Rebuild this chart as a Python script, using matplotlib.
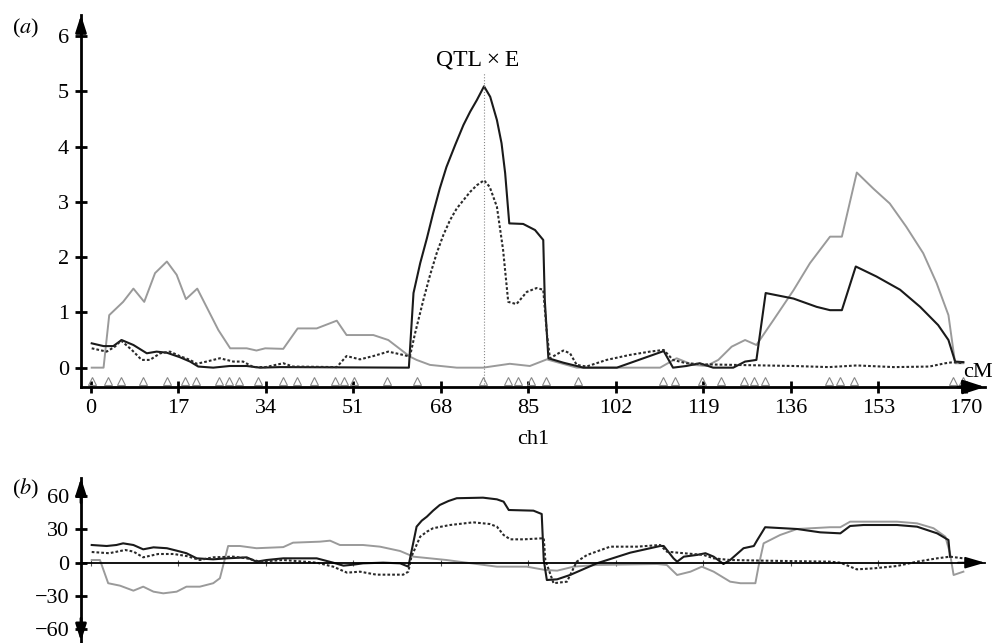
import matplotlib
matplotlib.use("Agg")
import matplotlib.pyplot as plt
import numpy as np

plt.rcParams.update({
    "font.family":      "Liberation Serif",
    "font.size":        16,
    "mathtext.fontset": "stix",
    "axes.unicode_minus": True,
})

# -- data: (a) LOD profile along ch1 -----------------------------------------
gray_a_cm = [0.2, 2.5, 3.6, 6.3, 8.3, 10.4, 12.5, 14.8, 16.7, 18.5, 20.7, 24.8,
             27.1, 30.3, 32.2, 33.9, 37.4, 40.2, 43.9, 47.8, 49.7, 54.9, 57.8,
             62.0, 63.3, 65.9, 71.1, 76.2, 81.4, 85.3, 88.6, 94.4, 110.6, 113.8,
             117.0, 119.6, 121.9, 124.5, 127.1, 129.3, 132.6, 136.5, 139.7,
             143.6, 145.9, 148.8, 152.0, 155.2, 158.4, 161.7, 164.3, 166.6,
             167.9, 169.5]
gray_a_val = [0, 0, 0.95, 1.19, 1.43, 1.19, 1.71, 1.92, 1.68, 1.24, 1.43, 0.68,
              0.35, 0.35, 0.31, 0.35, 0.34, 0.71, 0.71, 0.85, 0.59, 0.59, 0.50,
              0.20, 0.14, 0.05, 0.0, 0.0, 0.07, 0.03, 0.15, 0.0, 0.0, 0.17,
              0.05, 0.03, 0.14, 0.38, 0.50, 0.41, 0.86, 1.40, 1.89,
              2.37, 2.37, 3.53, 3.24, 2.97, 2.55, 2.07, 1.53, 0.95,
              0.08, 0.08]

black_a_cm = [0.2, 2.5, 4.4, 6.0, 8.3, 10.9, 12.8, 14.8, 17.3, 19.3, 20.9, 23.8,
              27.0, 30.3, 32.9, 36.8, 61.8, 62.7, 64.0, 65.3, 66.5, 67.8, 69.1,
              70.8, 72.4, 73.7, 75.0, 76.4, 77.6, 78.9, 79.8, 80.5, 81.3, 84.0,
              86.3, 87.9, 88.2, 88.9, 91.8, 95.7, 102.2, 111.3, 113.1, 115.7,
              118.3, 120.9, 124.8, 127.1, 129.3, 131.1, 136.5, 141.0, 143.6,
              145.9, 148.6, 152.6, 157.2, 161.1, 164.6, 166.6, 167.9, 169.5]
black_a_val = [0.44, 0.39, 0.39, 0.50, 0.41, 0.26, 0.29, 0.27, 0.19, 0.11, 0.02,
               0.0, 0.03, 0.03, 0.0, 0.01, 0.0, 1.35, 1.89, 2.34, 2.79, 3.24,
               3.63, 4.03, 4.39, 4.63, 4.84, 5.09, 4.90, 4.48, 4.06, 3.52, 2.61,
               2.60, 2.49, 2.31, 1.22, 0.17, 0.09, 0.0, 0.0, 0.30, 0.0, 0.03,
               0.08, 0.0, 0.0, 0.11, 0.14, 1.35, 1.25, 1.10, 1.04, 1.04, 1.83,
               1.65, 1.41, 1.10, 0.77, 0.50, 0.11, 0.10]

dot_a_cm = [0.2, 3.1, 4.7, 5.9, 8.0, 9.9, 11.5, 13.5, 15.4, 17.3, 19.3, 20.6,
            22.5, 25.1, 27.7, 29.6, 31.6, 34.0, 37.4, 39.3, 47.8, 49.7, 52.3,
            54.9, 57.8, 60.7, 62.0, 63.0, 64.6, 65.9, 67.2, 68.5, 69.8, 71.1,
            72.4, 73.7, 75.0, 76.4, 77.5, 78.9, 80.1, 81.1, 82.7, 84.7, 86.6,
            87.9, 88.6, 89.2, 91.8, 93.1, 94.4, 96.3, 100.2, 104.7, 108.6,
            111.3, 113.1, 115.7, 119.0, 136.5, 143.4, 148.8, 156.0, 162.9,
            166.0, 167.6, 169.5]
dot_a_val = [0.35, 0.29, 0.38, 0.49, 0.32, 0.14, 0.14, 0.26, 0.29, 0.21, 0.14,
             0.07, 0.11, 0.17, 0.11, 0.11, 0.01, 0.01, 0.08, 0.02, 0.01, 0.21,
             0.15, 0.21, 0.29, 0.23, 0.20, 0.62, 1.22, 1.67, 2.07, 2.40, 2.67,
             2.88, 3.03, 3.18, 3.30, 3.39, 3.27, 2.91, 2.13, 1.19, 1.15, 1.37,
             1.44, 1.41, 0.62, 0.17, 0.31, 0.26, 0.05, 0.02, 0.14, 0.23, 0.29,
             0.32, 0.14, 0.08, 0.06, 0.03, 0.01, 0.04, 0.01, 0.02, 0.08, 0.10,
             0.08]

# -- data: (b) effects along ch1 ---------------------------------------------
gray_b_cm = [0.2, 1.8, 3.4, 5.7, 8.3, 10.2, 12.2, 14.1, 16.7, 18.6, 21.2, 23.8,
             25.1, 26.7, 29.0, 32.2, 37.4, 39.3, 44.5, 46.5, 48.4, 52.9, 56.2,
             60.1, 62.7, 65.9, 69.1, 73.0, 78.9, 84.7, 88.3, 90.6, 93.8, 98.3,
             110.0, 111.9, 113.9, 116.5, 118.7, 121.0, 124.2, 126.2, 129.1,
             129.7, 130.7, 133.9, 137.2, 143.6, 145.6, 147.5, 156.6, 160.5,
             163.7, 166.0, 166.9, 167.6, 169.5]
gray_b_val = [2.4, 2.4, -18.5, -20.7, -25.2, -21.6, -26.1, -27.6, -26.1, -21.6,
              -21.6, -18.5, -14.0, 15.0, 15.0, 13.0, 14.0, 18.0, 18.9, 19.8,
              15.9, 15.9, 14.4, 10.5, 5.4, 3.9, 2.4, 0.0, -3.6, -3.6, -6.6,
              -7.2, -3.6, -2.1, -1.2, -2.1, -11.1, -8.1, -3.6, -8.1, -17.1,
              -18.5, -18.5, -3.6, 17.4, 24.9, 30.3, 31.9, 31.9, 36.9, 36.9,
              35.4, 31.0, 23.4, 8.5, -11.1, -8.1]

black_b_cm = [0.2, 3.1, 5.0, 6.3, 8.3, 10.2, 12.2, 14.8, 16.7, 18.6, 20.6, 23.8,
              26.4, 30.3, 32.2, 34.2, 37.4, 43.9, 47.1, 49.1, 51.0, 52.9, 56.8,
              60.1, 61.7, 62.1, 63.3, 64.3, 65.3, 66.5, 67.8, 69.5, 71.1, 76.2,
              78.9, 80.2, 81.2, 86.0, 87.6, 88.0, 88.6, 90.6, 93.1, 98.3, 104.8,
              110.6, 111.3, 113.2, 113.9, 115.2, 117.8, 119.4, 121.0, 122.9,
              124.2, 126.8, 128.8, 129.4, 131.0, 137.2, 141.7, 145.6, 147.5,
              150.1, 156.6, 160.5, 164.4, 166.6, 166.9]
black_b_val = [15.9, 15.0, 15.9, 17.4, 15.9, 12.0, 13.8, 13.0, 10.8, 8.5, 3.9,
               3.0, 3.9, 4.8, 0.9, 2.4, 3.9, 3.9, 0.0, -2.7, -1.8, -0.6, 0.0,
               -0.6, -3.6, 5.4, 32.4, 37.8, 41.4, 46.8, 51.9, 55.5, 58.0, 58.5,
               57.0, 54.9, 47.4, 46.8, 43.8, 2.4, -15.6, -15.0, -11.1, -0.6,
               9.0, 15.0, 15.0, 3.9, 0.9, 5.4, 7.0, 8.5, 5.4, -1.2, 2.4, 13.0,
               15.0, 19.8, 31.9, 30.3, 27.3, 26.4, 33.0, 33.9, 33.9, 32.4, 26.4,
               20.4, 5.4]

dot_b_cm = [0.2, 3.6, 6.7, 8.3, 10.2, 13.1, 16.1, 18.6, 21.2, 23.8, 27.7, 30.3,
            32.9, 37.4, 43.9, 47.1, 49.8, 52.3, 55.5, 60.7, 61.7, 62.3, 64.0,
            65.3, 66.5, 69.8, 74.3, 77.5, 78.9, 80.2, 81.5, 84.1, 88.0, 88.3,
            89.9, 92.5, 94.4, 96.4, 100.9, 106.1, 110.6, 111.9, 115.2, 119.0,
            121.0, 124.2, 130.7, 143.6, 145.6, 148.8, 152.1, 156.6, 160.5,
            164.4, 166.9, 169.5]
dot_b_val = [9.6, 8.5, 11.4, 10.0, 4.8, 7.8, 7.8, 6.0, 2.4, 4.8, 5.4, 3.9, 0.9,
             2.4, 0.0, -3.6, -9.0, -8.1, -10.8, -10.8, -8.1, 5.4, 23.4, 27.9,
             31.0, 33.9, 36.3, 34.8, 32.4, 24.9, 21.0, 21.0, 22.0, 2.4, -18.5,
             -17.1, 0.9, 6.9, 14.4, 14.4, 15.9, 9.9, 8.5, 7.0, 3.9, 2.4, 1.8,
             0.9, 0.0, -6.0, -5.1, -3.0, 0.9, 3.9, 5.4, 3.9]

# marker positions (cM) and QTL position
markers_cm = [0.2, 3.4, 5.9, 10.1, 14.8, 18.3, 20.4, 25.0, 26.9, 28.8, 32.5,
              37.3, 40.0, 43.4, 47.4, 49.2, 51.2, 57.6, 63.3, 76.2, 81.1, 83.0,
              85.6, 88.5, 94.6, 111.1, 113.5, 118.8, 122.5, 126.9, 128.9, 130.9,
              143.4, 145.5, 148.3, 167.4, 169.4]
qtl_cm = 76.4
xticks = list(range(0, 171, 17))
yticks_a = [0, 1, 2, 3, 4, 5, 6]
yticks_b = [-60, -30, 0, 30, 60]

GRAY, BLACK, DOT = "#9a9a9a", "#1a1a1a", "#2a2a2a"
W, H = 997, 643

fig = plt.figure(figsize=(W / 100, H / 100), dpi=100)


def px_axes(l, t, r, b):
    return fig.add_axes([l / W, 1 - b / H, (r - l) / W, (b - t) / H])


def arrow_head(ax, xy, xytext, coords, lw=2, hl=1.0, hw=0.32):
    ax.annotate("", xy=xy, xytext=xytext, xycoords=coords, textcoords=coords,
                arrowprops=dict(arrowstyle=f"-|>,head_length={hl},head_width={hw}",
                                color="k", lw=lw, shrinkA=0, shrinkB=0,
                                mutation_scale=10),
                annotation_clip=False)


ax_a = px_axes(81, 15, 985, 387)
ax_b = px_axes(81, 478, 985, 643)
for ax in (ax_a, ax_b):
    ax.set_xlim(-1.88, 173.7)
    ax.spines[["top", "right"]].set_visible(False)
    ax.spines["left"].set_linewidth(2)
    ax.patch.set_alpha(0)
ax_a.spines["bottom"].set_linewidth(2)
ax_b.spines["bottom"].set_linewidth(1.3)

# -- (a) ---------------------------------------------------------------------
ax_a.set_ylim(-0.35, 6.38)
ax_a.plot(gray_a_cm, gray_a_val, color=GRAY, lw=1.4)
ax_a.plot(black_a_cm, black_a_val, color=BLACK, lw=1.5)
ax_a.plot(dot_a_cm, dot_a_val, color=DOT, lw=1.5, linestyle=(0, (1.3, 1.0)))
ax_a.plot(markers_cm, np.full(len(markers_cm), -0.25), linestyle="none",
          marker="^", ms=5.5, mfc="none", mec="#888888", mew=0.8, clip_on=False)
ax_a.vlines(qtl_cm, -0.35, 5.33, colors="#888888", linestyles=":", lw=0.8)
ax_a.text(qtl_cm - 1.3, 5.56, "QTL\u2009×\u2009E", ha="center", va="center",
          fontsize=17)

ax_a.set_xticks(xticks)
ax_a.set_yticks(yticks_a)
ax_a.tick_params(direction="inout", length=9, width=2, labelsize=16, pad=4)
ax_a.set_xlabel("ch1", fontsize=16)
ax_a.xaxis.set_label_coords(0.5, -0.142)
ax_a.xaxis.label.set_va("center")
arrow_head(ax_a, (0, 1.0), (0, 0.95), "axes fraction")
arrow_head(ax_a, (1.0, 0), (0.97, 0), "axes fraction", hl=1.3, hw=0.42)

# -- (b) ---------------------------------------------------------------------
ax_b.set_ylim(-72.3, 76.2)
ax_b.spines["bottom"].set_position(("data", 0))
ax_b.plot(gray_b_cm, gray_b_val, color=GRAY, lw=1.4)
ax_b.plot(black_b_cm, black_b_val, color=BLACK, lw=1.5)
ax_b.plot(dot_b_cm, dot_b_val, color=DOT, lw=1.5, linestyle=(0, (1.3, 1.0)))
ax_b.set_xticks(xticks)
ax_b.set_yticks(yticks_b)
ax_b.tick_params(axis="y", direction="inout", length=9, width=2, labelsize=16, pad=4)
ax_b.tick_params(axis="x", direction="inout", length=5, width=0.8,
                 color="#555555", labelbottom=False)
arrow_head(ax_b, (0, 1.0), (0, 0.85), "axes fraction")
arrow_head(ax_b, (0, 0.01), (0, 0.15), "axes fraction")
arrow_head(ax_b, (1.0, 0), (0.97, 0), ax_b.get_yaxis_transform(), lw=1.3,
           hl=1.2, hw=0.35)

fig.text(26 / W, 1 - 28 / H, "($a$)", ha="center", va="center", fontsize=16)
fig.text(26 / W, 1 - 489 / H, "($b$)", ha="center", va="center", fontsize=16)
fig.text(978 / W, 1 - 372 / H, "cM", ha="center", va="center", fontsize=16)

fig.savefig("out.png", dpi=100)
